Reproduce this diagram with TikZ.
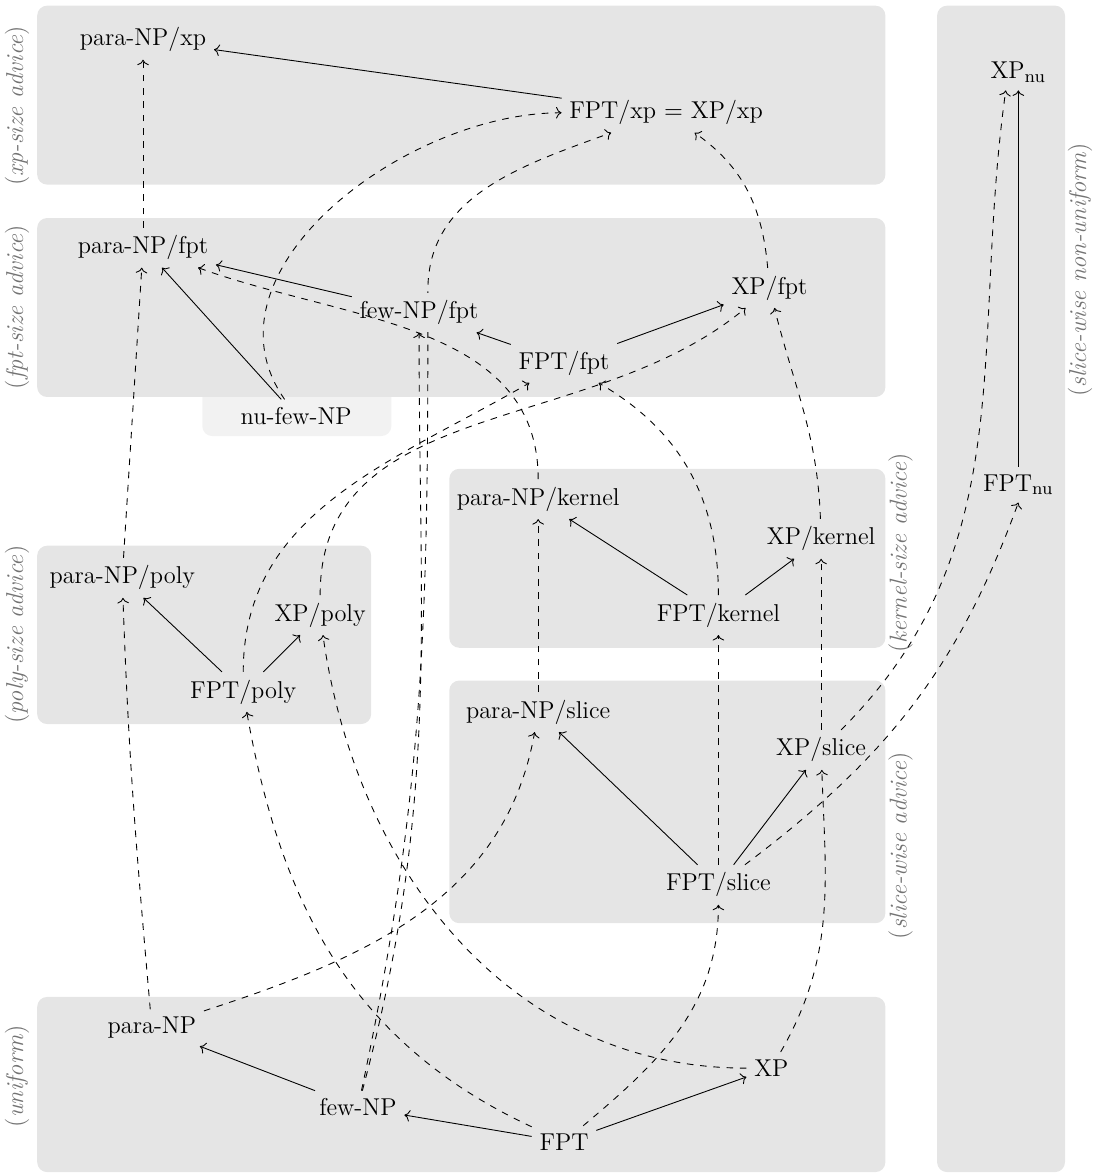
\documentclass[tikz,border=0pt]{standalone}
\usepackage{amsmath}
\usepackage{tikz}
\usetikzlibrary{arrows.meta,positioning}
\pgfdeclarelayer{bg}
\pgfsetlayers{bg,main}

\begin{document}
\begin{tikzpicture}[font=\fontsize{11pt}{13pt}\selectfont,
  region/.style={fill=black!10,rounded corners=4.5pt},
  side/.style={rotate=90,text=black!55},
  adv/.style={->,dashed}]
\useasboundingbox (0,0) rectangle (17.41,18.63);

% Advice levels
\begin{pgfonlayer}{bg}
\fill[black!5,rounded corners=4.5pt] (3.21,11.71) rectangle (6.21,12.6);
\fill[region] (0.59,15.70) rectangle (14.05,18.54);
\fill[region] (0.59,12.33) rectangle (14.05,15.17);
\fill[region] (7.13,8.35) rectangle (14.05,11.19);
\fill[region] (0.59,7.14) rectangle (5.89,9.97);
\fill[region] (7.13,3.98) rectangle (14.05,7.83);
\fill[region] (0.59,0.03) rectangle (14.05,2.81);
\fill[region] (14.87,0.03) rectangle (16.90,18.54);
\end{pgfonlayer}

% Level labels
\node[side] (xplabel) at (0.27,16.95) {(\textit{xp-size advice})};
\node[side] (fptlabel) at (0.27,13.76) {(\textit{fpt-size advice})};
\node[side] (polylabel) at (0.27,8.56) {(\textit{poly-size advice})};
\node[side] (unilabel) at (0.27,1.55) {(\textit{uniform})};
\node[side] (kernellabel) at (14.29,9.86) {(\textit{kernel-size advice})};
\node[side] (slicelabel) at (14.29,5.21) {(\textit{slice-wise advice})};
\node[side] (nulabel) at (17.14,14.35) {(\textit{slice-wise non-uniform})};

% Classes - xp and fpt advice
\node (paraxp) at (2.27,18.0) {para-NP/xp};
\node (fptxp) at (10.57,16.84) {FPT/xp $=$ XP/xp};
\node (parafpt) at (2.27,14.70) {para-NP/fpt};
\node[fill=black!10] (fewfpt) at (6.65,13.67) {few-NP/fpt};
\node (fptfpt) at (8.95,12.87) {FPT/fpt};
\node (xpfpt) at (12.21,14.06) {XP/fpt};
\node (nufew) at (4.70,12.03) {nu-few-NP};

% Classes - kernel, poly and slice advice
\node (parakernel) at (8.54,10.71) {para-NP/kernel};
\node (xpkernel) at (13.03,10.08) {XP/kernel};
\node (fptkernel) at (11.40,8.87) {FPT/kernel};
\node (parapoly) at (1.94,9.46) {para-NP/poly};
\node (xppoly) at (5.08,8.87) {XP/poly};
\node (fptpoly) at (3.86,7.65) {FPT/poly};
\node (paraslice) at (8.54,7.33) {para-NP/slice};
\node (xpslice) at (13.03,6.73) {XP/slice};
\node (fptslice) at (11.40,4.59) {FPT/slice};

% Classes - uniform and non-uniform
\node (para) at (2.41,2.32) {para-NP};
\node (few) at (5.68,1.06) {few-NP};
\node (fpt) at (8.95,0.51) {FPT};
\node (xp) at (12.24,1.68) {XP};
\node (xpnu) at (16.16,17.48) {XP$_{\mathrm{nu}}$};
\node (fptnu) at (16.16,10.94) {FPT$_{\mathrm{nu}}$};
\coordinate (fewbend) at (6.79,14.03);

% Inclusions inside one level
\draw[->] (fptxp) -- (paraxp);
\draw[->] (fewfpt) -- (parafpt);
\draw[->] (nufew) -- ([xshift=0.3cm]parafpt.south);
\draw[->] (fptfpt) -- (fewfpt);
\draw[->] (fptfpt) -- (xpfpt);
\draw[->] (fptkernel) -- (parakernel);
\draw[->] (fptkernel) -- (xpkernel);
\draw[->] (fptpoly) -- (parapoly);
\draw[->] (fptpoly) -- (xppoly);
\draw[->] (fptslice) -- (paraslice);
\draw[->] (fptslice) -- (xpslice);
\draw[->] (few) -- (para);
\draw[->] (fpt) -- (few);
\draw[->] (fpt) -- (xp);
\draw[->] (fptnu) -- (xpnu);

% Inclusions between levels
\draw[adv] (parafpt) -- (paraxp);
\draw[adv] (parapoly) -- (parafpt);
\draw[adv] (para) to[out=95,in=-88] (parapoly);
\draw[adv] (para) to[out=18,in=-100] (paraslice);
\draw[adv] (fptpoly) to[out=90,in=210] (fptfpt);
\draw[adv] (xppoly) to[out=90,in=220] (xpfpt);
\draw[adv] (fpt) to[out=155,in=-80] (fptpoly);
\draw[adv] (xp) to[out=180,in=-82] (xppoly);
\draw[adv] (fpt) to[out=40,in=-90] (fptslice);
\draw[adv] (xp) to[out=60,in=-88] (xpslice);
\draw[adv] (paraslice) -- (parakernel);
\draw[adv] (fptslice) -- (fptkernel);
\draw[adv] (xpslice) -- (xpkernel);
\draw[adv] (parakernel) to[out=90,in=-20] (parafpt);
\draw[adv] (fptkernel) to[out=90,in=-30] (fptfpt);
\draw[adv] (xpkernel) to[out=92,in=-76] (xpfpt);
\draw[adv] (xpfpt) to[out=95,in=-35] (fptxp);
\draw[adv] (nufew) to[out=125,in=180] (fptxp);
\draw[adv] (few) to[out=75,in=-90] (fewfpt);
\begin{pgfonlayer}{bg}
\draw[adv] (few) to[out=78,in=-90] (fewbend) to[out=90,in=200] (fptxp);
\end{pgfonlayer}
\draw[adv] (xpslice) to[out=45,in=-98] ([xshift=-0.2cm]xpnu.south);
\draw[adv] (fptslice) to[out=37,in=-110] (fptnu.south);
\end{tikzpicture}
\end{document}
